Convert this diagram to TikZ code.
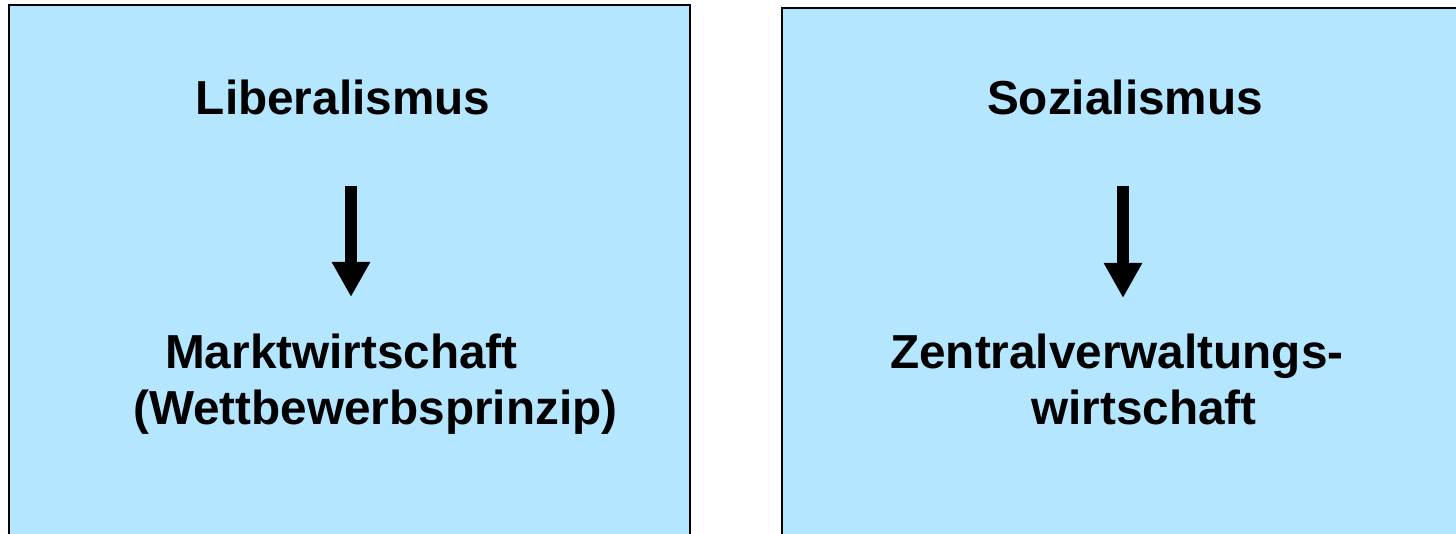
\documentclass[tikz,border=0pt]{standalone}
\usepackage{fontspec}
\setmainfont{Liberation Sans}
\usetikzlibrary{arrows.meta, positioning}

\definecolor{boxblue}{RGB}{180,230,255}

\begin{document}
\begin{tikzpicture}[x=1pt, y=-1pt,
  panel/.style={draw=black, line width=2pt, fill=boxblue},
  label/.style={inner sep=0pt, font=\fontsize{47.7}{55}\selectfont\bfseries},
  bigarrow/.style={line width=12pt, line cap=butt, -{Triangle[width=36pt, length=35pt]}}]
\useasboundingbox (0,0) rectangle (1456,534);

% the two panels run off the bottom edge
\draw[panel] (9,5) rectangle (690,560);
\draw[panel] (782,8) rectangle (1480,560);

% left panel
\node[label, anchor=base] (lib) at (343,115) {Liberalismus};
\node[label, anchor=base west] (markt) at (165,369) {Marktwirtschaft};
\node[label, anchor=base west] (wett) at (133,424) {(Wettbewerbsprinzip)};
\coordinate (libtop) at (351,186);
\coordinate (libtip) at (351,297);
\draw[bigarrow] (libtop) -- (libtip);

% right panel
\node[label, anchor=base] (soz) at (1125,115) {Sozialismus};
\node[label, anchor=base west] (zentral) at (890,369) {Zentralverwaltungs-};
\node[label, anchor=base west] (wirt) at (1031,424) {wirtschaft};
\coordinate (soztop) at (1123,186);
\coordinate (soztip) at (1123,298);
\draw[bigarrow] (soztop) -- (soztip);
\end{tikzpicture}
\end{document}
